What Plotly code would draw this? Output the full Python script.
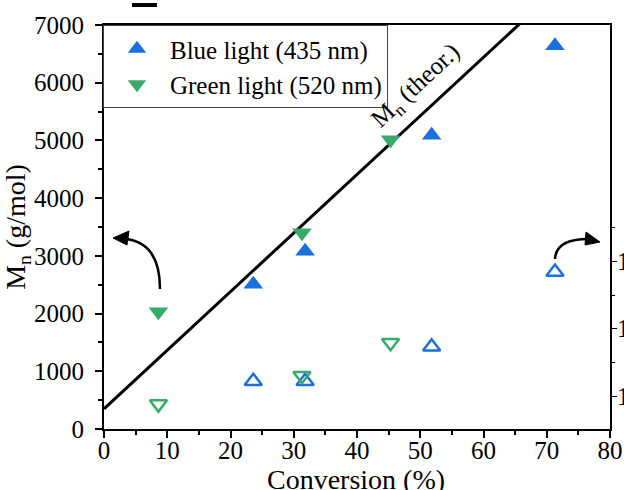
import plotly.graph_objects as go

# ---- data ----
blue_conv = [23.6, 31.8, 51.8, 71.3]
blue_mn = [2510, 3080, 5090, 6640]
blue_disp = [1.122, 1.122, 1.173, 1.284]

green_conv = [8.6, 31.3, 45.3]
green_mn = [2030, 3400, 5010]
green_disp = [1.088, 1.130, 1.179]

theor_conv = [0, 80]
theor_mn = [350, 350 + 101.5 * 80]

x_ticks = [0, 10, 20, 30, 40, 50, 60, 70, 80]
y_ticks = [0, 1000, 2000, 3000, 4000, 5000, 6000, 7000]
y2_ticks = [1.1, 1.2, 1.3]
y2_minor = [1.15, 1.25, 1.35]

BLUE = "#1c6fde"
GREEN = "#36ab69"
FONT = "Liberation Serif, Times New Roman, serif"

W, H = 624, 490
L, R, T, B = 104, 14, 25, 61
PW, PH = W - L - R, H - T - B


def px(xp):
    return (xp - L) / PW


def py(yp):
    return (H - B - yp) / PH


fig = go.Figure()

fig.add_trace(go.Scatter(x=theor_conv, y=theor_mn, mode="lines",
                         line=dict(color="black", width=3), showlegend=False,
                         hoverinfo="skip"))

fig.add_trace(go.Scatter(x=blue_conv, y=blue_mn, mode="markers",
                         name="Blue light (435 nm)",
                         marker=dict(symbol="triangle-up", size=17, color=BLUE,
                                     line=dict(width=0))))
fig.add_trace(go.Scatter(x=green_conv, y=green_mn, mode="markers",
                         name="Green light (520 nm)",
                         marker=dict(symbol="triangle-down", size=17, color=GREEN,
                                     line=dict(width=0))))

fig.add_trace(go.Scatter(x=blue_conv, y=blue_disp, mode="markers", yaxis="y2",
                         showlegend=False,
                         marker=dict(symbol="triangle-up-open", size=15, color=BLUE,
                                     line=dict(width=2.5, color=BLUE))))
fig.add_trace(go.Scatter(x=green_conv, y=green_disp, mode="markers", yaxis="y2",
                         showlegend=False,
                         marker=dict(symbol="triangle-down-open", size=15, color=GREEN,
                                     line=dict(width=2.5, color=GREEN))))

axis_common = dict(showline=True, linecolor="black", linewidth=2,
                   ticks="outside", ticklen=7, tickwidth=1.5, tickcolor="black",
                   showgrid=False, zeroline=False, automargin=False,
                   tickfont=dict(family=FONT, size=25, color="black"))

fig.update_layout(
    width=W, height=H,
    margin=dict(l=L, r=R, t=T, b=B, autoexpand=False),
    paper_bgcolor="white", plot_bgcolor="white",
    font=dict(family=FONT, color="black"),
    xaxis=dict(range=[0, 80], tickvals=x_ticks, mirror=True, ticklabelstandoff=-9,
               minor=dict(dtick=5, tick0=0, ticks="outside", ticklen=4, tickcolor="black"),
               **axis_common),
    yaxis=dict(range=[0, 7000], tickvals=y_ticks, ticklabelstandoff=6,
               minor=dict(dtick=500, tick0=0, ticks="outside", ticklen=4, tickcolor="black"),
               title=dict(text="M<sub>n</sub> (g/mol)", font=dict(family=FONT, size=28),
                          standoff=4),
               **axis_common),
    yaxis2=dict(overlaying="y", side="right", range=[1.051, 1.651],
                tickvals=y2_ticks, ticktext=["1.1", "1.2", "1.3"], ticklen=5,
                ticklabelstandoff=-5,
                minor=dict(tickmode="array", tickvals=y2_minor, ticks="outside",
                           ticklen=3, tickcolor="black"),
                showline=True, linecolor="black", linewidth=2, automargin=False,
                ticks="outside", tickcolor="black", showgrid=False, zeroline=False,
                tickfont=dict(family=FONT, size=25, color="black")),
    legend=dict(x=-0.002, y=1, xanchor="left", yanchor="top",
                bgcolor="white", bordercolor="#444", borderwidth=1,
                font=dict(family=FONT, size=25, color="black"),
                itemwidth=56, tracegroupgap=0),
    showlegend=True,
)

# x-axis title
fig.add_annotation(x=px(356), y=py(479), xref="paper", yref="paper",
                   xanchor="center", yanchor="middle", showarrow=False,
                   text="Conversion (%)", font=dict(family=FONT, size=28, color="black"))

# label on theoretical line
fig.add_annotation(x=px(416), y=py(86), xref="paper", yref="paper",
                   xanchor="center", yanchor="middle",
                   text="M<sub>n</sub> (theor.)", showarrow=False, textangle=-43,
                   font=dict(family=FONT, size=25, color="black"))

# curved arrows
fig.add_shape(type="path", xref="paper", yref="paper",
              path=f"M {px(160)} {py(289)} Q {px(160)} {py(243)} {px(126)} {py(239)}",
              line=dict(color="black", width=2.5))
fig.add_shape(type="path", xref="paper", yref="paper",
              path=f"M {px(113)} {py(238)} L {px(129)} {py(231)} L {px(127)} {py(245)} Z",
              line=dict(color="black", width=1), fillcolor="black")
fig.add_shape(type="path", xref="paper", yref="paper",
              path=f"M {px(555)} {py(259)} Q {px(556)} {py(239)} {px(588)} {py(239)}",
              line=dict(color="black", width=2.5))
fig.add_shape(type="path", xref="paper", yref="paper",
              path=f"M {px(600)} {py(242)} L {px(586)} {py(232)} L {px(585)} {py(245)} Z",
              line=dict(color="black", width=1), fillcolor="black")

# small dash at top (cropped element)
fig.add_shape(type="rect", xref="paper", yref="paper",
              x0=px(132), x1=px(157), y0=py(7), y1=py(3),
              line=dict(width=0), fillcolor="black")

fig.write_html("out.html", config={"displayModeBar": False},
               post_script="document.body.style.margin='0';document.body.style.padding='0';")
